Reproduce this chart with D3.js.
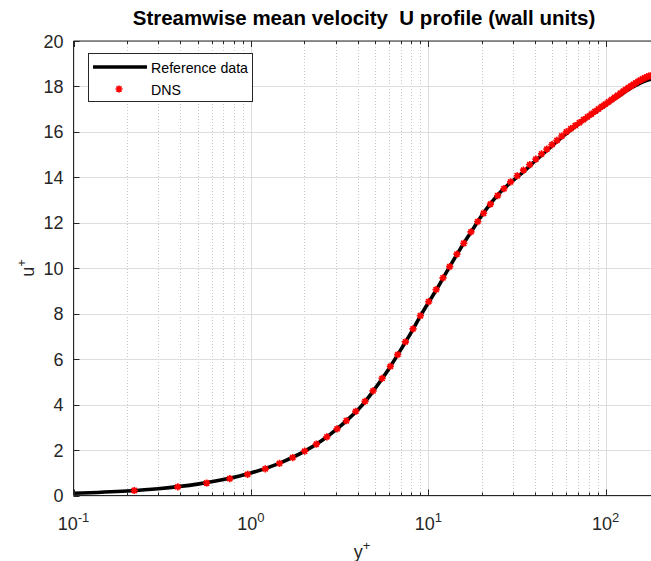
<!DOCTYPE html>
<html><head><meta charset="utf-8">
<script src="https://cdn.jsdelivr.net/npm/d3@7"></script>
<style>
body{margin:0;background:#fff}
svg{display:block}
text{font-family:"Liberation Sans",Arial,Helvetica,sans-serif;white-space:pre}
</style>
</head><body>
<svg id="c" width="651" height="561"></svg>
<script>
// ---- data ----
const titleText = "Streamwise mean velocity  U profile (wall units)";
const refYplus = [0.1,0.2,0.3,0.5,0.7,1.0,1.5,2.0,2.5,3.0,3.5,4.0,4.5,5.0,6.0,7.0,8.0,9.0,10,11,13,15,17.5,20,25,30,35,40,50,60,70,80,100,120,140,160,180];
const refUplus = [0.1,0.2,0.3,0.5,0.7,0.99,1.47,1.94,2.41,2.88,3.33,3.76,4.22,4.70,5.58,6.42,7.17,7.88,8.48,9.0,9.98,10.8,11.62,12.32,13.28,13.86,14.3,14.72,15.4,15.93,16.33,16.65,17.18,17.6,17.94,18.18,18.32];
const dnsYplus = [0.22,0.387,0.563,0.76,0.958,1.205,1.45,1.72,2.01,2.34,2.68,3.06,3.45,3.90,4.40,4.88,5.49,6.11,6.72,7.43,8.20,9.02,10.05,11.07,12.1,13.2,14.5,15.85,17.4,19.0,20.5,22.4,24.6,26.7,29.1,31.7,34.4,37.3,40.4,43.5,46.6,49.8,53.1,56.5,60.0,63.6,67.3,71.1,75.0,78.9,82.9,87.0,91.1,95.3,99.5,103.8,108.1,112.4,116.8,121.2,125.6,130.0,134.5,139.0,143.5,148.0,152.5,157.0,161.5,166.0,170.5,175.0,179.5];
const dnsUplus = [0.22,0.38,0.55,0.74,0.93,1.17,1.41,1.67,1.95,2.26,2.58,2.93,3.29,3.70,4.14,4.60,5.15,5.68,6.20,6.76,7.33,7.91,8.53,9.06,9.58,10.07,10.62,11.1,11.6,12.05,12.42,12.82,13.2,13.5,13.8,14.07,14.32,14.56,14.8,15.03,15.24,15.44,15.63,15.82,16.0,16.14,16.28,16.41,16.54,16.66,16.78,16.9,17.01,17.12,17.22,17.32,17.42,17.52,17.61,17.7,17.79,17.87,17.95,18.02,18.09,18.16,18.22,18.28,18.33,18.38,18.42,18.45,18.47];
const yTicks = [0,2,4,6,8,10,12,14,16,18,20];
const xMajorTicks = [0.1,1,10,100];
const xTickBase = ["10","10","10","10"];
const xTickExp = ["-1","0","1","2"];
const xMinorTicks = [0.2,0.3,0.4,0.5,0.6,0.7,0.8,0.9,2,3,4,5,6,7,8,9,20,30,40,50,60,70,80,90];
const legendLabels = ["Reference data","DNS"];

// ---- layout ----
const L = 73.5, R = 651, T = 41, B = 495.5;
const svg = d3.select("#c");
const x = d3.scaleLog().domain([0.1, 180]).range([L, R]);
const y = d3.scaleLinear().domain([0, 20]).range([B, T]);
const axisCol = "#262626";

svg.append("rect").attr("width",651).attr("height",561).attr("fill","#fff");

// grid
const g = svg.append("g");
g.selectAll(".mg").data(xMinorTicks).enter().append("line")
  .attr("x1",d=>Math.round(x(d))+0.5).attr("x2",d=>Math.round(x(d))+0.5)
  .attr("y1",T).attr("y2",B)
  .attr("stroke","#c8c8c8").attr("stroke-width",1).attr("stroke-dasharray","1,2");
g.selectAll(".Mg").data(xMajorTicks).enter().append("line")
  .attr("x1",d=>Math.round(x(d))+0.5).attr("x2",d=>Math.round(x(d))+0.5)
  .attr("y1",T).attr("y2",B)
  .attr("stroke","#dedede").attr("stroke-width",1);
g.selectAll(".yg").data(yTicks).enter().append("line")
  .attr("x1",L).attr("x2",R)
  .attr("y1",d=>Math.round(y(d))+0.5).attr("y2",d=>Math.round(y(d))+0.5)
  .attr("stroke","#dedede").attr("stroke-width",1);

// clip
svg.append("clipPath").attr("id","clp").append("rect")
  .attr("x",L).attr("y",T).attr("width",R-L).attr("height",B-T);
const plot = svg.append("g").attr("clip-path","url(#clp)");

const refData = refYplus.map((v,i)=>[v,refUplus[i]]);
const dnsData = dnsYplus.map((v,i)=>[v,dnsUplus[i]]);

plot.append("path").datum(refData)
  .attr("d", d3.line().x(d=>x(d[0])).y(d=>y(d[1])).curve(d3.curveMonotoneX))
  .attr("fill","none").attr("stroke","#000").attr("stroke-width",3.6)
  .attr("stroke-linejoin","round");

function star(r){
  const a = r*0.7071;
  return `M${-r},0L${r},0M0,${-r}L0,${r}M${-a},${-a}L${a},${a}M${-a},${a}L${a},${-a}`;
}
plot.selectAll(".dns").data(dnsData).enter().append("path")
  .attr("transform",d=>`translate(${x(d[0])},${y(d[1])})`)
  .attr("d",star(3.6)).attr("fill","none")
  .attr("stroke","#ff0000").attr("stroke-width",1.7);

// axes box
const ax = svg.append("g");
ax.append("line").attr("x1",L).attr("x2",R).attr("y1",T).attr("y2",T).attr("stroke",axisCol);
ax.append("line").attr("x1",L).attr("x2",R).attr("y1",B).attr("y2",B).attr("stroke",axisCol);
ax.append("line").attr("x1",L).attr("x2",L).attr("y1",T).attr("y2",B).attr("stroke",axisCol);

// ticks
ax.selectAll(".xt").data(xMajorTicks).enter().append("line")
  .attr("x1",d=>Math.round(x(d))+0.5).attr("x2",d=>Math.round(x(d))+0.5)
  .attr("y1",B).attr("y2",B-6).attr("stroke",axisCol);
ax.selectAll(".xtt").data(xMajorTicks).enter().append("line")
  .attr("x1",d=>Math.round(x(d))+0.5).attr("x2",d=>Math.round(x(d))+0.5)
  .attr("y1",T).attr("y2",T+6).attr("stroke",axisCol);
ax.selectAll(".xm").data(xMinorTicks).enter().append("line")
  .attr("x1",d=>Math.round(x(d))+0.5).attr("x2",d=>Math.round(x(d))+0.5)
  .attr("y1",B).attr("y2",B-3).attr("stroke",axisCol);
ax.selectAll(".xmt").data(xMinorTicks).enter().append("line")
  .attr("x1",d=>Math.round(x(d))+0.5).attr("x2",d=>Math.round(x(d))+0.5)
  .attr("y1",T).attr("y2",T+3).attr("stroke",axisCol);
ax.selectAll(".yt").data(yTicks).enter().append("line")
  .attr("x1",L).attr("x2",L+6)
  .attr("y1",d=>Math.round(y(d))+0.5).attr("y2",d=>Math.round(y(d))+0.5)
  .attr("stroke",axisCol);

// tick labels
ax.selectAll(".yl").data(yTicks).enter().append("text")
  .attr("x",L-10).attr("y",d=>y(d)+6.5).attr("text-anchor","end")
  .attr("font-size",18).attr("fill","#262626").text(d=>d);

const xl = ax.selectAll(".xl").data(xMajorTicks).enter().append("text")
  .attr("x",d=>x(d)).attr("y",530).attr("text-anchor","middle")
  .attr("font-size",18).attr("fill","#262626");
xl.append("tspan").text((d,i)=>xTickBase[i]);
xl.append("tspan").attr("dy",-8).attr("font-size",13).text((d,i)=>xTickExp[i]);

// axis labels
const xlab = svg.append("text").attr("x",362).attr("y",558).attr("text-anchor","middle")
  .attr("font-size",18).attr("fill","#262626");
xlab.append("tspan").text("y");
xlab.append("tspan").attr("dy",-8).attr("font-size",13).text("+");

const ylab = svg.append("text").attr("transform","translate(34,268) rotate(-90)")
  .attr("text-anchor","middle").attr("font-size",18).attr("fill","#262626");
ylab.append("tspan").text("u");
ylab.append("tspan").attr("dy",-8).attr("font-size",13).text("+");

// title
svg.append("text").attr("x",364).attr("y",25).attr("text-anchor","middle")
  .attr("font-size",20.5).attr("font-weight","bold").attr("fill","#000").text(titleText);

// legend
const lg = svg.append("g");
lg.append("rect").attr("x",88.5).attr("y",53.5).attr("width",164).attr("height",48)
  .attr("fill","#fff").attr("stroke",axisCol).attr("stroke-width",1);
lg.append("line").attr("x1",93).attr("x2",147).attr("y1",67).attr("y2",67)
  .attr("stroke","#000").attr("stroke-width",3.6);
lg.append("path").attr("transform","translate(119,89)").attr("d",star(3.6))
  .attr("fill","none").attr("stroke","#ff0000").attr("stroke-width",1.7);
lg.selectAll(".lt").data(legendLabels).enter().append("text")
  .attr("x",151).attr("y",(d,i)=>72.5+i*22).attr("font-size",14.2).attr("fill","#000").text(d=>d);
</script>
</body></html>
